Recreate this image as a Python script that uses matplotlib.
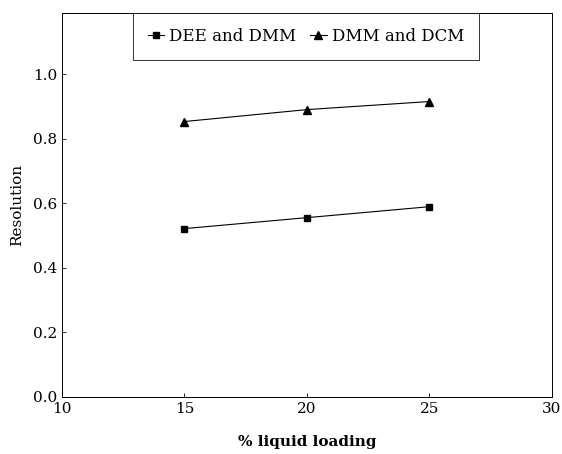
import matplotlib
matplotlib.use("Agg")
import matplotlib.pyplot as plt

plt.rcParams.update({
    "font.family": "serif",
    "font.serif": ["DejaVu Serif", "Liberation Serif"]})

# ----------------------------------------
# Data
# ----------------------------------------
loading = [15, 20, 25]
res_dee_dmm = [0.522, 0.556, 0.590]
res_dmm_dcm = [0.854, 0.891, 0.916]

x_ticks = [10, 15, 20, 25, 30]
y_ticks = [0.0, 0.2, 0.4, 0.6, 0.8, 1.0]

fig = plt.figure(figsize=(5.62, 4.54), dpi=100)
ax = fig.add_axes([0.110, 0.1256, 0.872, 0.8454])

ax.plot(loading, res_dee_dmm, color='black', lw=0.8, marker='s', ms=5,
        label="DEE and DMM")
ax.plot(loading, res_dmm_dcm, color='black', lw=0.8, marker='^', ms=6,
        label="DMM and DCM")

ax.set_xlim(10, 30)
ax.set_ylim(0, 1.19)
ax.set_xticks(x_ticks)
ax.set_yticks(y_ticks)
ax.set_yticklabels([f"{v:.1f}" for v in y_ticks])
ax.tick_params(direction='in', length=3, labelsize=11, width=0.6)
for s in ax.spines.values():
    s.set_linewidth(0.7)

ax.set_xlabel("% liquid loading", fontsize=11, fontweight='bold', labelpad=14)
ax.set_ylabel("Resolution", fontsize=11, labelpad=6)

leg = ax.legend(loc='upper center', bbox_to_anchor=(0.498, 1.0), ncol=2,
                fontsize=12, frameon=True, fancybox=False, borderaxespad=0,
                handlelength=1.0, handletextpad=0.3, columnspacing=0.8,
                borderpad=0.9, markerscale=0.9)
leg.get_frame().set_edgecolor('black')
leg.get_frame().set_linewidth(0.7)

plt.savefig("out.png", dpi=100)
